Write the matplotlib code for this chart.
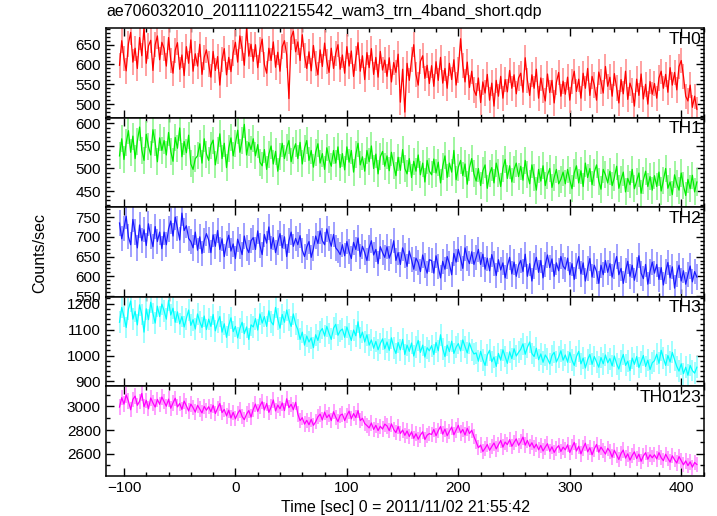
import numpy as np
import matplotlib
matplotlib.use("Agg")
import matplotlib.pyplot as plt
from matplotlib.ticker import MultipleLocator

plt.rcParams['font.family'] = ['Liberation Sans', 'DejaVu Sans']

TITLE = "ae706032010_20111102215542_wam3_trn_4band_short.qdp"

# 2 s bins, -104 .. 414 s
t = np.arange(-104, 416, 2)

th0 = [
    598, 660, 615, 584, 652, 681, 606, 641, 590, 668, 622, 694, 603, 647, 661, 585, 650, 672, 612, 656,
    640, 596, 668, 610, 578, 636, 655, 588, 624, 572, 645, 603, 662, 583, 627, 596, 651, 575, 618, 637,
    601, 568, 633, 585, 620, 548, 612, 640, 574, 618, 582, 629, 656, 606, 672, 640, 598, 692, 621, 651,
    608, 650, 592, 637, 664, 600, 578, 641, 610, 657, 593, 631, 583, 645, 660, 624, 514, 668, 684, 632,
    657, 610, 675, 622, 590, 632, 584, 648, 603, 574, 637, 595, 654, 608, 580, 641, 590, 628, 650, 588,
    624, 578, 645, 596, 634, 570, 615, 655, 583, 622, 562, 630, 592, 640, 575, 618, 568, 633, 586, 611,
    570, 617, 556, 605, 580, 626, 505, 588, 480, 603, 560, 612, 650, 575, 548, 608, 622, 565, 598, 552,
    597, 545, 607, 560, 618, 553, 590, 540, 603, 562, 612, 548, 586, 665, 598, 556, 606, 542, 583, 536,
    522, 566, 504, 556, 528, 575, 510, 553, 495, 560, 520, 570, 515, 562, 531, 585, 540, 574, 526, 566,
    578, 530, 617, 560, 522, 574, 540, 588, 515, 566, 535, 508, 576, 529, 560, 503, 555, 580, 520, 558,
    525, 568, 510, 557, 583, 532, 563, 515, 578, 540, 590, 522, 570, 548, 510, 581, 557, 528, 595, 545,
    568, 520, 577, 541, 503, 562, 526, 583, 512, 553, 535, 495, 563, 522, 576, 513, 550, 500, 557, 525,
    552, 515, 566, 583, 540, 575, 530, 592, 548, 580, 536, 595, 610, 570, 520, 508, 548, 492, 520, 487,
]

th1 = [
    528, 566, 520, 557, 584, 536, 572, 522, 560, 592, 541, 518, 576, 549, 530, 586, 558, 515, 568, 540,
    562, 530, 580, 538, 516, 569, 545, 590, 526, 560, 535, 574, 510, 498, 522, 528, 555, 512, 566, 532,
    518, 552, 563, 508, 540, 577, 522, 556, 502, 545, 568, 528, 555, 585, 536, 562, 598, 530, 558, 542,
    566, 528, 553, 514, 506, 542, 498, 532, 550, 510, 538, 494, 526, 556, 522, 546, 562, 515, 540, 555,
    522, 558, 510, 545, 562, 518, 540, 503, 536, 555, 512, 533, 498, 546, 520, 505, 540, 512, 548, 502,
    533, 497, 548, 514, 540, 492, 531, 556, 508, 526, 494, 540, 515, 550, 500, 532, 488, 526, 538, 505,
    528, 495, 536, 507, 484, 525, 496, 542, 500, 488, 522, 480, 516, 494, 530, 486, 512, 470, 518, 494,
    486, 521, 490, 514, 468, 505, 528, 480, 512, 492, 540, 475, 503, 518, 484, 510, 465, 502, 522, 488,
    472, 500, 462, 495, 508, 456, 488, 502, 468, 512, 490, 460, 500, 520, 478, 506, 470, 498, 512, 482,
    505, 474, 518, 486, 466, 508, 481, 452, 498, 472, 506, 462, 485, 500, 458, 480, 498, 466, 476, 492,
    466, 498, 474, 455, 490, 506, 468, 495, 460, 512, 480, 500, 464, 492, 508, 472, 454, 498, 486, 468,
    494, 462, 480, 505, 456, 475, 492, 448, 478, 464, 498, 455, 472, 490, 445, 474, 494, 460, 482, 452,
    484, 460, 492, 450, 474, 500, 456, 470, 442, 486, 466, 452, 490, 462, 440, 476, 455, 485, 448, 470,
]

th2 = [
    735, 695, 722, 752, 700, 680, 744, 712, 672, 730, 690, 718, 678, 733, 700, 675, 726, 688, 712, 670,
    712, 680, 720, 740, 702, 750, 722, 692, 760, 716, 728, 696, 688, 672, 712, 666, 700, 658, 690, 708,
    692, 660, 705, 676, 716, 668, 695, 650, 684, 704, 664, 682, 645, 694, 676, 655, 702, 672, 660, 690,
    698, 668, 715, 678, 655, 706, 684, 725, 670, 698, 660, 686, 708, 672, 700, 650, 690, 712, 676, 696,
    680, 703, 666, 650, 674, 688, 648, 670, 702, 683, 715, 690, 680, 720, 695, 676, 706, 672, 665, 655,
    680, 652, 688, 662, 645, 686, 668, 697, 650, 676, 660, 640, 672, 690, 654, 668, 632, 675, 660, 648,
    675, 646, 662, 690, 640, 660, 630, 672, 652, 625, 664, 642, 618, 646, 635, 612, 654, 628, 608, 642,
    640, 608, 652, 624, 596, 638, 618, 650, 632, 604, 658, 636, 668, 645, 620, 672, 646, 632, 662, 630,
    648, 668, 630, 656, 618, 646, 614, 655, 632, 602, 642, 616, 634, 596, 626, 648, 606, 636, 600, 628,
    640, 612, 656, 600, 632, 588, 626, 648, 610, 640, 596, 630, 654, 622, 644, 600, 634, 614, 650, 626,
    618, 646, 604, 632, 592, 626, 650, 606, 634, 588, 620, 645, 598, 628, 612, 582, 628, 604, 640, 610,
    632, 598, 626, 650, 604, 620, 582, 614, 638, 600, 628, 590, 618, 652, 608, 594, 630, 580, 612, 636,
    608, 630, 592, 622, 578, 612, 635, 596, 624, 570, 606, 628, 588, 614, 580, 604, 626, 586, 612, 598,
]

th3 = [
    1128, 1185, 1150, 1108, 1178, 1210, 1140, 1170, 1118, 1195, 1158, 1090, 1180, 1138, 1205, 1162, 1125, 1190, 1150, 1198,
    1172, 1140, 1212, 1156, 1182, 1128, 1168, 1122, 1150, 1110, 1142, 1175, 1116, 1138, 1102, 1160, 1130, 1108, 1152, 1100,
    1140, 1112, 1158, 1095, 1128, 1150, 1090, 1122, 1070, 1116, 1145, 1092, 1112, 1068, 1104, 1128, 1084, 1110, 1062, 1118,
    1110, 1142, 1098, 1160, 1125, 1150, 1112, 1172, 1130, 1118, 1185, 1140, 1105, 1158, 1128, 1175, 1138, 1112, 1160, 1120,
    1100, 1062, 1090, 1040, 1075, 1052, 1068, 1030, 1080, 1058, 1092, 1104, 1075, 1112, 1085, 1062, 1105, 1120, 1078, 1095,
    1102, 1070, 1110, 1082, 1058, 1098, 1076, 1130, 1068, 1090, 1052, 1080, 1040, 1060, 1028, 1054, 1022, 1046, 1064, 1026,
    1052, 1020, 1068, 1030, 1008, 1050, 1022, 1062, 1004, 1040, 1016, 1048, 998, 1032, 1058, 1012, 1040, 994, 1030, 1018,
    1038, 1004, 1050, 1018, 1080, 1026, 996, 1040, 1015, 1055, 1008, 1032, 1046, 1018, 1060, 1034, 1010, 1048, 1022, 1006,
    1010, 978, 1016, 984, 962, 1002, 1020, 976, 994, 958, 1008, 982, 1022, 996, 970, 1014, 988, 1026, 998, 1012,
    1024, 1045, 1005, 1032, 1052, 1008, 996, 1028, 984, 1006, 974, 1002, 988, 968, 1000, 1012, 975, 994, 1018, 982,
    1002, 974, 1012, 982, 962, 996, 1016, 968, 990, 952, 984, 1004, 966, 996, 976, 955, 992, 968, 1002, 972,
    988, 960, 998, 968, 948, 980, 1004, 962, 978, 942, 990, 966, 996, 954, 976, 1000, 958, 982, 946, 972,
    980, 1005, 970, 1020, 990, 962, 1000, 975, 1012, 984, 958, 940, 968, 930, 955, 924, 962, 942, 932, 955,
]

th0123 = [
    2995, 3075, 3020, 3098, 3045, 2972, 3060, 3088, 3010, 3044, 3110, 2998, 3052, 2980, 3072, 3030, 2995, 3060, 3018, 3080,
    3040, 3002, 3062, 2985, 3030, 3070, 2996, 3025, 2975, 3045, 3005, 2962, 3020, 2990, 2952, 3010, 2978, 2945, 3000, 2968,
    2998, 2955, 3010, 2940, 2985, 3025, 2948, 2975, 2920, 2968, 2902, 2950, 2895, 2940, 2970, 2915, 2888, 2935, 2965, 2910,
    2975, 3020, 2958, 3005, 3040, 2970, 3025, 2950, 2995, 3055, 2962, 3012, 2980, 3030, 2965, 3065, 2990, 3018, 2972, 3035,
    2935, 2880, 2905, 2850, 2882, 2845, 2890, 2840, 2870, 2912, 2935, 2885, 2952, 2905, 2930, 2880, 2955, 2908, 2872, 2925,
    2935, 2880, 2925, 2960, 2895, 2940, 2905, 2965, 2880, 2900, 2855, 2838, 2818, 2860, 2805, 2840, 2795, 2832, 2808, 2850,
    2835, 2795, 2852, 2805, 2778, 2830, 2770, 2800, 2755, 2792, 2745, 2785, 2730, 2768, 2722, 2758, 2785, 2720, 2756, 2770,
    2762, 2805, 2752, 2795, 2830, 2765, 2808, 2752, 2790, 2825, 2760, 2800, 2840, 2775, 2805, 2758, 2815, 2770, 2798, 2745,
    2700, 2650, 2672, 2618, 2645, 2678, 2628, 2660, 2690, 2640, 2675, 2712, 2655, 2698, 2676, 2718, 2662, 2695, 2725, 2670,
    2700, 2740, 2672, 2712, 2660, 2692, 2648, 2680, 2632, 2670, 2622, 2655, 2684, 2620, 2658, 2610, 2645, 2668, 2618, 2655,
    2632, 2675, 2610, 2655, 2695, 2622, 2662, 2598, 2648, 2688, 2615, 2650, 2590, 2640, 2678, 2612, 2655, 2625, 2596, 2645,
    2620, 2570, 2628, 2588, 2550, 2602, 2630, 2562, 2598, 2545, 2585, 2615, 2558, 2595, 2535, 2580, 2608, 2552, 2590, 2565,
    2590, 2555, 2608, 2565, 2540, 2595, 2560, 2528, 2582, 2548, 2520, 2575, 2540, 2505, 2538, 2498, 2530, 2485, 2525, 2508,
]

names = ["TH0", "TH1", "TH2", "TH3", "TH0123"]
series = [th0, th1, th2, th3, th0123]
errs = [32, 30, 32, 42, 65]

ylims = [(466, 692), (414, 613), (548, 775), (881, 1226), (2410, 3170)]
majors = [50, 50, 50, 100, 200]
minors = [10, 10, 10, 20, 100]
colors = ["#ff0000", "#00ee00", "#1a1aff", "#00ffff", "#ff00ff"]
light = ["#ff9090", "#90f590", "#9090ff", "#90ffff", "#ff90ff"]

fig = plt.figure(figsize=(7.17, 5.16), dpi=100)
gs = fig.add_gridspec(5, 1, left=0.1474, right=0.982, top=0.9457, bottom=0.0775, hspace=0)

for i in range(5):
    ax = fig.add_subplot(gs[i])
    y = np.array(series[i])
    ax.errorbar(t, y, yerr=errs[i], fmt='none', ecolor=light[i], elinewidth=1.2, capsize=0)
    ax.plot(t, y, color=colors[i], lw=0.9)
    ax.set_xlim(-116.4, 420.5)
    ax.set_ylim(*ylims[i])
    ax.xaxis.set_major_locator(MultipleLocator(100))
    ax.xaxis.set_minor_locator(MultipleLocator(20))
    ax.yaxis.set_major_locator(MultipleLocator(majors[i]))
    ax.yaxis.set_minor_locator(MultipleLocator(minors[i]))
    ax.tick_params(which='both', direction='in', top=True, right=True, labelsize=11, width=1)
    ax.tick_params(which='major', length=6)
    ax.tick_params(which='minor', length=3)
    for s in ax.spines.values():
        s.set_linewidth(1.1)
    ax.text(0.995, 0.96, names[i], transform=ax.transAxes, ha='right', va='top', fontsize=12.5)
    if i < 4:
        ax.tick_params(labelbottom=False)

fig.text(0.149, 0.977, TITLE, ha='left', va='center', fontsize=11.5)
fig.text(0.056, 0.51, "Counts/sec", rotation=90, ha='center', va='center', fontsize=11.5)
fig.text(0.565, 0.017, "Time [sec] 0 = 2011/11/02 21:55:42", ha='center', va='center', fontsize=11.5)

fig.savefig("out.png", dpi=100)
